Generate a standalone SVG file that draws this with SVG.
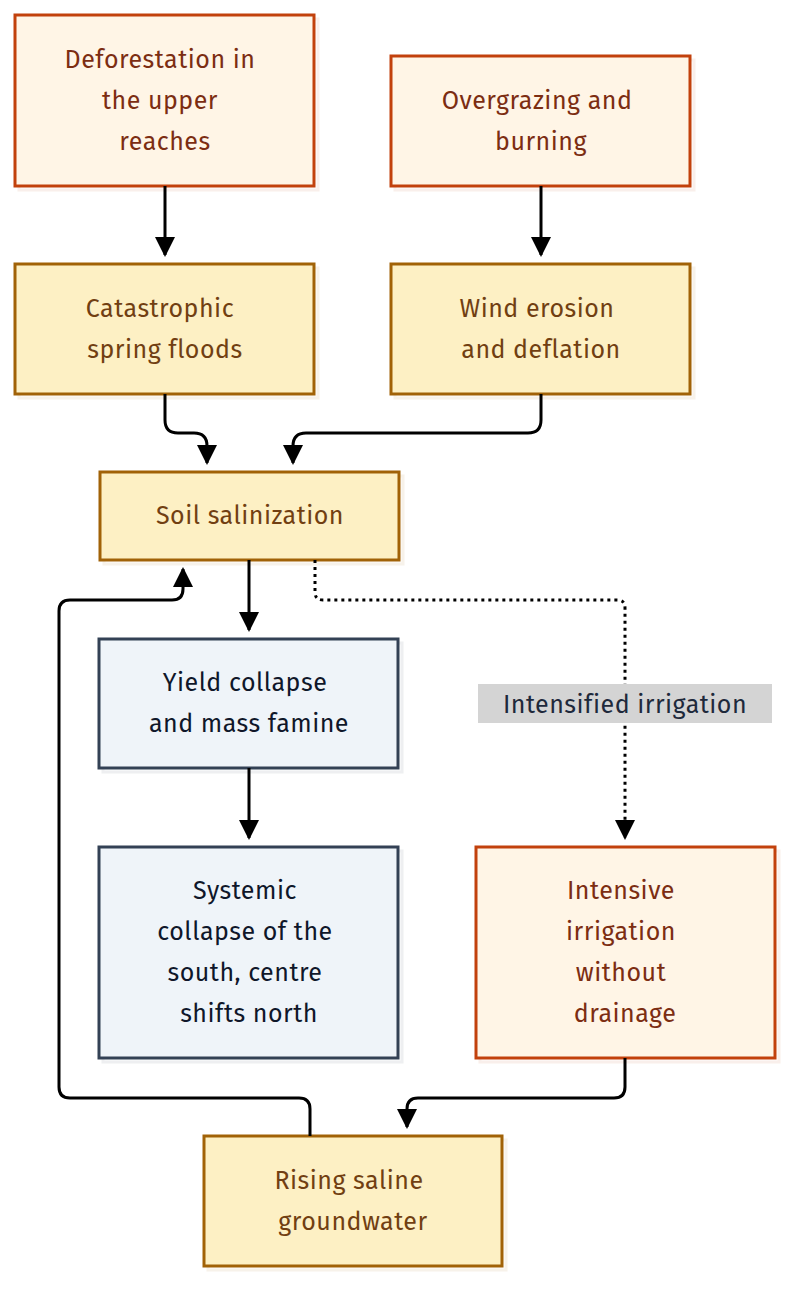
<svg xmlns="http://www.w3.org/2000/svg" width="806" height="1308" viewBox="0 0 806 1308">
<style>
text{font-family:"Fira Sans","Noto Sans","Open Sans",sans-serif;font-size:25px;text-anchor:middle;letter-spacing:0.5px}
.o rect{fill:#fff5e6;stroke:#c2410c;stroke-width:3}
.o text{fill:#7c2d12}
.y rect{fill:#fdf0c4;stroke:#a16207;stroke-width:3}
.y text{fill:#713f12}
.b rect{fill:#eff4f9;stroke:#334155;stroke-width:3}
.b text{fill:#0f172a}
.sh{fill:#000;opacity:0.08}
.c{fill:none;stroke:#000;stroke-width:3}
</style>
<defs>
<marker id="a" markerWidth="8" markerHeight="8" refX="4" refY="4" orient="auto" markerUnits="userSpaceOnUse" viewBox="0 0 8 8"><path d="M0,0 L8,4 L0,8 Z"/></marker>
<marker id="ah" markerWidth="22" markerHeight="20" refX="18" refY="10" orient="auto" markerUnits="userSpaceOnUse"><path d="M0,0 L20,10 L0,20 Z" fill="#000"/></marker>
</defs>
<g id="n1" class="o"><rect class="sh" x="19" y="19" width="299" height="171"/><rect x="15" y="15" width="299" height="171"/><text x="160" y="68">Deforestation in</text><text x="160" y="109">the upper</text><text x="165" y="150">reaches</text></g>
<g id="n2" class="o"><rect class="sh" x="395" y="60" width="299" height="130"/><rect x="391" y="56" width="299" height="130"/><text x="537" y="109">Overgrazing and</text><text x="541" y="150">burning</text></g>
<g id="n3" class="y"><rect class="sh" x="19" y="268" width="299" height="130"/><rect x="15" y="264" width="299" height="130"/><text x="160" y="317">Catastrophic</text><text x="165" y="358">spring floods</text></g>
<g id="n4" class="y"><rect class="sh" x="395" y="268" width="299" height="130"/><rect x="391" y="264" width="299" height="130"/><text x="537" y="317">Wind erosion</text><text x="541" y="358">and deflation</text></g>
<g id="n5" class="y"><rect class="sh" x="104" y="476" width="299" height="88"/><rect x="100" y="472" width="299" height="88"/><text x="250" y="524">Soil salinization</text></g>
<g id="n6" class="b"><rect class="sh" x="103" y="643" width="299" height="129"/><rect x="99" y="639" width="299" height="129"/><text x="245" y="691">Yield collapse</text><text x="249" y="732">and mass famine</text></g>
<g id="n7" class="b"><rect class="sh" x="103" y="851" width="299" height="211"/><rect x="99" y="847" width="299" height="211"/><text x="245" y="899">Systemic</text><text x="245" y="940">collapse of the</text><text x="245" y="981">south, centre</text><text x="249" y="1022">shifts north</text></g>
<g id="n8" class="o"><rect class="sh" x="480" y="851" width="299" height="211"/><rect x="476" y="847" width="299" height="211"/><text x="621" y="899">Intensive</text><text x="621" y="940">irrigation</text><text x="621" y="981">without</text><text x="625" y="1022">drainage</text></g>
<g id="n9" class="y"><rect class="sh" x="208" y="1140" width="298" height="130"/><rect x="204" y="1136" width="298" height="130"/><text x="349" y="1189">Rising saline</text><text x="353" y="1230">groundwater</text></g>
<g id="connectors">
<path class="c" d="M165,186 V255" marker-end="url(#ah)"/>
<path class="c" d="M541,186 V255" marker-end="url(#ah)"/>
<path class="c" d="M165,394 V420 Q165,433 178,433 H194 Q207,433 207,446 V463" marker-end="url(#ah)"/>
<path class="c" d="M541,394 V420 Q541,433 528,433 H306 Q293,433 293,446 V463" marker-end="url(#ah)"/>
<path class="c" d="M249,560 V630" marker-end="url(#ah)"/>
<path class="c" d="M249,768 V838" marker-end="url(#ah)"/>
<path class="c" d="M315,560 V592 Q315,600 323,600 H617 Q625,600 625,608 V838" stroke-dasharray="3,4" marker-end="url(#ah)"/>
<path class="c" d="M625,1058 V1087 Q625,1098 614,1098 H418 Q407,1098 407,1109 V1127" marker-end="url(#ah)"/>
<path class="c" d="M310,1136 V1109 Q310,1098 299,1098 H70 Q59,1098 59,1087 V611 Q59,600 70,600 H172 Q183,600 183,589 V569" marker-end="url(#ah)"/>
<rect x="478" y="684" width="294" height="39" fill="#d4d4d4"/>
<text x="625" y="713" style="fill:#1e293b">Intensified irrigation</text>
</g>
</svg>
